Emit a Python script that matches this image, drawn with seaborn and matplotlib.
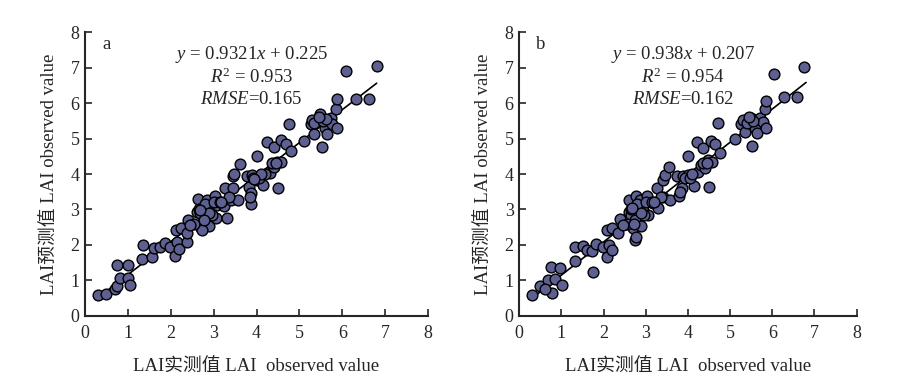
# ---------------------------------------------------
# Import Required Libraries
# ---------------------------------------------------
import numpy as np
import pandas as pd
import matplotlib
matplotlib.use("Agg")
import matplotlib.pyplot as plt
import seaborn as sns

# ---------------------------------------------------
# Data
# ---------------------------------------------------
obs_a = [0.30, 0.48, 0.69, 0.75, 0.74, 1.00, 0.82, 1.01, 1.04, 1.35, 1.33, 1.56, 1.60, 1.75,
         1.86, 1.98, 2.11, 2.13, 2.15, 2.19, 2.23, 2.37, 2.38, 2.40, 2.61, 2.64, 2.69, 2.70,
         2.79, 2.84, 2.89, 2.93, 3.04, 3.05, 3.08, 3.24, 3.30, 3.27, 3.41, 3.46, 3.46, 3.48,
         3.56, 3.61, 3.77, 3.82, 3.86, 3.86, 3.85, 3.90, 4.02, 4.00, 4.15, 4.25, 4.31, 4.40,
         4.41, 4.48, 4.51, 4.56, 4.58, 4.68, 4.76, 4.80, 5.10, 5.27, 5.33, 5.30, 5.48, 5.52,
         5.57, 5.60, 5.65, 5.73, 5.77, 5.85, 5.87, 5.87, 6.08, 6.33, 6.62, 6.81,
         2.66, 2.72, 2.80, 2.95, 3.00, 3.15, 3.35, 2.55, 2.45, 3.92, 4.05, 4.20, 4.35, 4.45,
         5.35, 5.55, 5.62, 5.45, 3.18, 2.88, 4.10, 3.95, 2.77, 2.69]
pred_a = [0.58, 0.62, 0.76, 0.83, 1.43, 1.43, 1.07, 1.06, 0.88, 2.00, 1.59, 1.67, 1.90, 1.95,
          2.06, 1.94, 1.69, 2.42, 2.09, 1.89, 2.47, 2.09, 2.34, 2.70, 2.93, 3.30, 2.90, 2.47,
          2.68, 3.28, 2.52, 3.05, 3.37, 2.76, 3.12, 3.10, 2.75, 3.60, 3.27, 3.60, 3.93, 4.01,
          3.27, 4.28, 3.94, 3.63, 3.46, 3.14, 3.36, 3.97, 3.83, 4.51, 3.70, 4.90, 4.04, 4.21,
          4.77, 4.35, 3.60, 4.35, 4.96, 4.85, 5.40, 4.65, 4.94, 5.40, 5.13, 5.52, 5.70, 4.75,
          5.53, 5.30, 5.12, 5.57, 5.41, 5.83, 6.12, 5.31, 6.92, 6.12, 6.12, 7.06,
          3.00, 2.43, 3.15, 2.85, 3.20, 3.22, 3.35, 2.60, 2.55, 3.88, 3.90, 4.00, 4.30, 4.30,
          5.45, 5.50, 5.55, 5.60, 3.20, 2.90, 4.00, 3.85, 2.70, 2.98]

obs_b = [0.31, 0.49, 0.69, 0.77, 0.75, 0.96, 0.85, 1.02, 1.32, 1.32, 1.52, 1.60, 1.72, 1.75,
         1.83, 1.99, 2.09, 2.07, 2.13, 2.21, 2.21, 2.35, 2.39, 2.61, 2.61, 2.66, 2.70, 2.74,
         2.74, 2.78, 2.78, 2.86, 2.88, 2.94, 3.04, 3.06, 3.18, 3.30, 3.26, 3.42, 3.42, 3.45,
         3.56, 3.57, 3.73, 3.79, 3.85, 3.89, 4.01, 3.99, 4.15, 4.21, 4.25, 4.32, 4.36, 4.40,
         4.48, 4.51, 4.54, 4.58, 4.64, 4.72, 4.76, 5.11, 5.25, 5.31, 5.35, 5.51, 5.49, 5.59,
         5.63, 5.71, 5.77, 5.83, 5.84, 5.85, 6.04, 6.28, 6.58, 6.75,
         0.60, 2.66, 2.80, 2.95, 3.00, 3.15, 3.35, 2.55, 2.45, 3.92, 4.05, 4.35, 4.45,
         5.40, 5.55, 5.45, 3.20, 2.88, 4.10, 3.80, 2.72, 2.68]
pred_b = [0.58, 0.85, 1.01, 0.63, 1.38, 1.34, 1.05, 0.87, 1.55, 1.95, 1.97, 1.86, 1.83, 1.24,
          2.02, 1.95, 1.67, 2.42, 2.00, 1.86, 2.47, 2.33, 2.72, 2.94, 3.27, 2.84, 2.47, 2.70,
          2.14, 2.23, 3.38, 3.27, 2.53, 2.98, 3.38, 2.84, 3.17, 3.03, 3.60, 3.36, 3.83, 3.97,
          4.19, 3.27, 3.95, 3.38, 3.60, 3.93, 3.97, 4.51, 3.66, 4.90, 4.07, 4.26, 4.73, 4.16,
          4.40, 3.64, 4.94, 4.35, 4.85, 5.45, 4.59, 4.98, 5.40, 5.53, 5.20, 4.79, 5.57, 5.29,
          5.15, 5.57, 5.48, 5.83, 6.06, 5.31, 6.83, 6.17, 6.17, 7.02,
          0.75, 3.00, 3.15, 2.85, 3.20, 3.22, 3.35, 2.60, 2.55, 3.88, 3.90, 4.30, 4.30,
          5.45, 5.50, 5.60, 3.20, 2.90, 4.00, 3.50, 2.60, 3.05]

panel_labels = ["a", "b"]
slopes = [0.9321, 0.938]
intercepts = [0.225, 0.207]
r2_values = ["0.953", "0.954"]
rmse_values = ["0.165", "0.162"]
fit_range = [0.35, 6.8]
ticks = [0, 1, 2, 3, 4, 5, 6, 7, 8]

# ---------------------------------------------------
# Style
# ---------------------------------------------------
sns.set_style("ticks")
plt.rcParams["font.family"] = ["Liberation Serif", "Noto Sans CJK SC"]
plt.rcParams["mathtext.fontset"] = "custom"
plt.rcParams["mathtext.rm"] = "Liberation Serif"
plt.rcParams["mathtext.it"] = "Liberation Serif:italic"

point_color = "#5d6090"
text_size = 13.5

fig = plt.figure(figsize=(9.03, 3.85), dpi=100)
ax_a = fig.add_axes([0.0941, 0.18, 0.380, 0.736])
ax_b = fig.add_axes([0.5750, 0.18, 0.3737, 0.736])

panels = [
    (ax_a, obs_a, pred_a),
    (ax_b, obs_b, pred_b),
]

for i, (ax, obs, pred) in enumerate(panels):
    df = pd.DataFrame({"obs": obs, "pred": pred})

    # scatter points
    sns.scatterplot(x="obs", y="pred", data=df, ax=ax, color=point_color,
                    edgecolor="black", linewidth=1.0, s=60, zorder=3)

    # regression line
    fx = np.array(fit_range)
    ax.plot(fx, slopes[i] * fx + intercepts[i], color="black", lw=1.2, zorder=2)

    ax.set_xlim(0, 8)
    ax.set_ylim(0, 8)
    ax.set_xticks(ticks)
    ax.set_yticks(ticks)
    ax.tick_params(direction="in", length=5, width=1.2, labelsize=13, pad=4)
    ax.tick_params(axis="x", pad=7)
    for side in ["left", "bottom"]:
        ax.spines[side].set_linewidth(1.5)
    sns.despine(ax=ax)

    ax.set_xlabel("LAI实测值 LAI  observed value", fontsize=text_size, labelpad=12)
    ax.set_ylabel("LAI预测值 LAI observed value", fontsize=text_size, labelpad=9)

    # annotations
    ax.text(0.5, 7.65, panel_labels[i], fontsize=text_size, va="center", ha="center")
    ax.text(3.88, 7.37, r"$y$ = %s$x$ + %s" % (slopes[i], intercepts[i]),
            fontsize=text_size, ha="center", va="center")
    ax.text(3.88, 6.74, r"$R^2$ = %s" % r2_values[i], fontsize=text_size,
            ha="center", va="center")
    ax.text(3.88, 6.10, r"$RMSE$=%s" % rmse_values[i], fontsize=text_size,
            ha="center", va="center")

plt.savefig("out.png", dpi=100)
